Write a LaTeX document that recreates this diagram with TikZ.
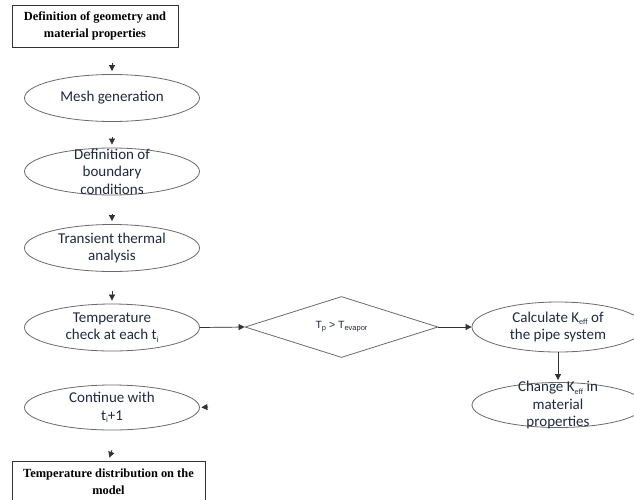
\documentclass[tikz,border=0pt]{standalone}
\usepackage{fontspec}
\setmainfont{Carlito}
\newfontfamily\boxfont{Liberation Serif}
\newfontfamily\arialfont{Liberation Sans}
\usetikzlibrary{shapes.geometric,arrows.meta}
\definecolor{txt}{HTML}{1E2A3E}
\definecolor{edge}{HTML}{6A6A6A}
\newcommand\mysub[1]{\raisebox{-0.35ex}{\fontsize{8}{8}\selectfont #1}}
\newcommand\dsub[1]{\raisebox{-0.35ex}{\fontsize{7.5}{8}\selectfont #1}}
\begin{document}
\begin{tikzpicture}[x=1pt,y=-1pt,
  oval/.style={ellipse, draw=edge, line width=0.8pt, minimum width=175, minimum height=47,
    inner sep=0pt, align=center, text=txt, font=\fontsize{15}{17.5}\selectfont},
  overflow/.style={inner sep=-14pt},
  headbox/.style={rectangle, draw=black!80, line width=0.8pt, inner sep=0pt, align=center,
    font=\boxfont\bfseries\fontsize{12.4}{17}\selectfont},
  decision/.style={diamond, draw=edge, line width=0.8pt, minimum width=193, minimum height=61,
    inner sep=0pt, aspect=3, text=txt, font=\arialfont\fontsize{10.5}{13}\selectfont},
  tip/.style={-{Triangle[length=6pt,width=6pt]}, line width=0.7pt, draw=black!80, fill=black},
]
\clip (0,0) rectangle (634,499);

% nodes
\node[headbox, minimum width=166, minimum height=42] (geo) at (95,26)
  {Definition of geometry and\\material properties};
\node[oval] (mesh) at (112,98) {Mesh generation};
\node[oval, overflow] (bc) at (112,171.5) {Definition of\\boundary\\conditions};
\node[oval] (trans) at (112,248) {Transient thermal\\analysis};
\node[oval] (check) at (112,327.5) {Temperature\\check at each t\mysub{i}};
\node[oval, minimum height=45] (cont) at (112,407.5) {Continue with\\t\mysub{i}+1};
\node[headbox, minimum width=193, minimum height=41] (result) at (108.5,481.5)
  {Temperature distribution on the\\model};
\node[decision] (dec) at (341.5,327) {T\dsub{p} > T\dsub{evapor}};
\node[oval, minimum width=172, minimum height=50] (keff) at (558,327)
  {Calculate K\mysub{eff} of\\the pipe system};
\node[oval, overflow, minimum width=172, minimum height=45] (chg) at (558,405)
  {Change K\mysub{eff} in\\material\\properties};

% free ends of the short arrow marks
\coordinate (m1) at (112,63);
\coordinate (m2) at (112,137);
\coordinate (m3) at (112,214);
\coordinate (m4) at (112,291);
\coordinate (m5) at (112,450);
\coordinate (m6) at (208,407);

% connectors
\draw[tip, shorten >=3pt] (m1) -- (mesh.north);
\draw[tip, shorten >=3pt] (m2) -- (bc.north);
\draw[tip, shorten >=3pt] (m3) -- (trans.north);
\draw[tip, shorten >=3pt] (m4) -- (check.north);
\draw[tip, shorten >=3pt] (m5) -- (result.north);
\draw[tip, shorten >=1.5pt] (m6) -- (cont.east);
\draw[tip] (check.east) -- (dec.west);
\draw[tip] (dec.east) -- (keff.west);
\draw[tip, shorten >=2pt] (keff.south) -- (chg.north);
\end{tikzpicture}
\end{document}
